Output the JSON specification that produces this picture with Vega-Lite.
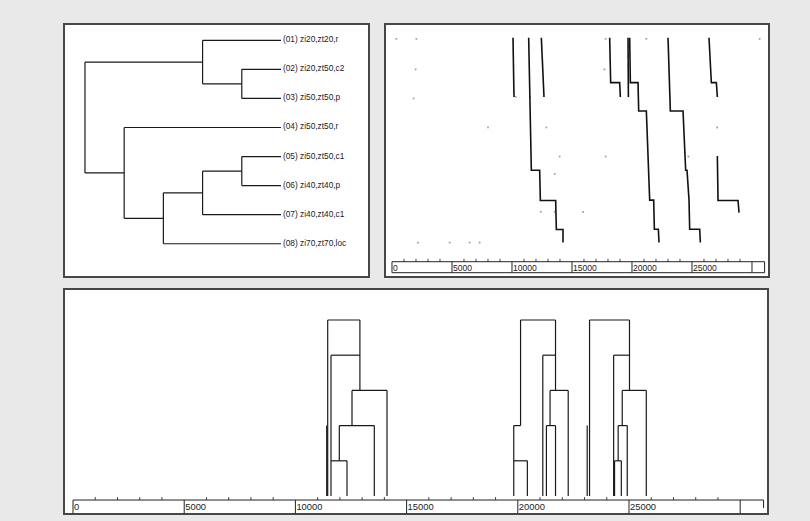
{
  "$schema": "https://vega.github.io/schema/vega-lite/v6.json",
  "background": "#e9e9e9",
  "padding": {"left": 63, "top": 23, "right": 43, "bottom": 10},
  "autosize": {"type": "pad"},
  "config": {
    "view": {"stroke": "#474747", "strokeWidth": 2, "fill": "white"},
    "text": {"font": "Liberation Sans"}
  },
  "datasets": {
    "dendro": [
      {"x": 0.4, "x2": 0, "y": 1, "y2": 1},
      {"x": 0.2, "x2": 0, "y": 2, "y2": 2},
      {"x": 0.2, "x2": 0, "y": 3, "y2": 3},
      {"x": 0.8, "x2": 0, "y": 4, "y2": 4},
      {"x": 0.2, "x2": 0, "y": 5, "y2": 5},
      {"x": 0.2, "x2": 0, "y": 6, "y2": 6},
      {"x": 0.4, "x2": 0, "y": 7, "y2": 7},
      {"x": 0.6, "x2": 0, "y": 8, "y2": 8},
      {"x": 0.4, "x2": 0.2, "y": 2.5, "y2": 2.5},
      {"x": 1.0, "x2": 0.4, "y": 1.75, "y2": 1.75},
      {"x": 0.4, "x2": 0.2, "y": 5.5, "y2": 5.5},
      {"x": 0.6, "x2": 0.4, "y": 6.25, "y2": 6.25},
      {"x": 0.8, "x2": 0.6, "y": 7.125, "y2": 7.125},
      {"x": 1.0, "x2": 0.8, "y": 5.5625, "y2": 5.5625},
      {"x": 0.2, "x2": 0.2, "y": 2, "y2": 3},
      {"x": 0.4, "x2": 0.4, "y": 1, "y2": 2.5},
      {"x": 1.0, "x2": 1.0, "y": 1.75, "y2": 5.5625},
      {"x": 0.2, "x2": 0.2, "y": 5, "y2": 6},
      {"x": 0.4, "x2": 0.4, "y": 5.5, "y2": 7},
      {"x": 0.6, "x2": 0.6, "y": 6.25, "y2": 8},
      {"x": 0.8, "x2": 0.8, "y": 4, "y2": 7.125}
    ],
    "leaves": [
      {"row": 1, "label": "(01) zi20,zt20,r"},
      {"row": 2, "label": "(02) zi20,zt50,c2"},
      {"row": 3, "label": "(03) zi50,zt50,p"},
      {"row": 4, "label": "(04) zi50,zt50,r"},
      {"row": 5, "label": "(05) zi50,zt50,c1"},
      {"row": 6, "label": "(06) zi40,zt40,p"},
      {"row": 7, "label": "(07) zi40,zt40,c1"},
      {"row": 8, "label": "(08) zi70,zt70,loc"}
    ],
    "traces": [
      {"trace": "A", "ord": 1, "pos": 10083, "row": 0.91},
      {"trace": "A", "ord": 2, "pos": 10167, "row": 2.95},
      {"trace": "B", "ord": 1, "pos": 11390, "row": 0.91},
      {"trace": "B", "ord": 2, "pos": 11612, "row": 5.474},
      {"trace": "B", "ord": 3, "pos": 12306, "row": 5.474},
      {"trace": "B", "ord": 4, "pos": 12362, "row": 6.51},
      {"trace": "B", "ord": 5, "pos": 13640, "row": 6.51},
      {"trace": "B", "ord": 6, "pos": 13696, "row": 7.51},
      {"trace": "B", "ord": 7, "pos": 14251, "row": 7.51},
      {"trace": "B", "ord": 8, "pos": 14251, "row": 7.96},
      {"trace": "C", "ord": 1, "pos": 12445, "row": 0.91},
      {"trace": "C", "ord": 2, "pos": 12667, "row": 2.95},
      {"trace": "D", "ord": 1, "pos": 18140, "row": 0.91},
      {"trace": "D", "ord": 2, "pos": 18223, "row": 2.458},
      {"trace": "D", "ord": 3, "pos": 18973, "row": 2.458},
      {"trace": "D", "ord": 4, "pos": 19029, "row": 2.95},
      {"trace": "E1", "ord": 1, "pos": 19668, "row": 0.91},
      {"trace": "E1", "ord": 2, "pos": 19700, "row": 2.95},
      {"trace": "E2", "ord": 1, "pos": 19807, "row": 0.91},
      {"trace": "E2", "ord": 2, "pos": 19863, "row": 2.458},
      {"trace": "E2", "ord": 3, "pos": 20502, "row": 2.458},
      {"trace": "E2", "ord": 4, "pos": 20557, "row": 3.433},
      {"trace": "E2", "ord": 5, "pos": 21196, "row": 3.433},
      {"trace": "E2", "ord": 6, "pos": 21474, "row": 6.5},
      {"trace": "E2", "ord": 7, "pos": 21807, "row": 6.5},
      {"trace": "E2", "ord": 8, "pos": 21863, "row": 7.5},
      {"trace": "E2", "ord": 9, "pos": 22196, "row": 7.5},
      {"trace": "E2", "ord": 10, "pos": 22252, "row": 7.96},
      {"trace": "F", "ord": 1, "pos": 23002, "row": 0.91},
      {"trace": "F", "ord": 2, "pos": 23196, "row": 3.433},
      {"trace": "F", "ord": 3, "pos": 24252, "row": 3.433},
      {"trace": "F", "ord": 4, "pos": 24474, "row": 5.474},
      {"trace": "F", "ord": 5, "pos": 24585, "row": 5.474},
      {"trace": "F", "ord": 6, "pos": 24752, "row": 6.5},
      {"trace": "F", "ord": 7, "pos": 24807, "row": 7.5},
      {"trace": "F", "ord": 8, "pos": 25641, "row": 7.5},
      {"trace": "F", "ord": 9, "pos": 25697, "row": 7.96},
      {"trace": "G1", "ord": 1, "pos": 26418, "row": 0.91},
      {"trace": "G1", "ord": 2, "pos": 26613, "row": 2.458},
      {"trace": "G1", "ord": 3, "pos": 27030, "row": 2.458},
      {"trace": "G1", "ord": 4, "pos": 27113, "row": 2.95},
      {"trace": "G2", "ord": 1, "pos": 27113, "row": 4.98},
      {"trace": "G2", "ord": 2, "pos": 27169, "row": 6.51},
      {"trace": "G2", "ord": 3, "pos": 28836, "row": 6.51},
      {"trace": "G2", "ord": 4, "pos": 28919, "row": 6.93}
    ],
    "dots": [
      {"pos": 361, "row": 0.95}, {"pos": 2028, "row": 0.95}, {"pos": 1972, "row": 2.0},
      {"pos": 1806, "row": 3.0}, {"pos": 8000, "row": 4.0}, {"pos": 12862, "row": 4.0},
      {"pos": 13973, "row": 5.0}, {"pos": 17807, "row": 5.0}, {"pos": 13557, "row": 5.6},
      {"pos": 15918, "row": 6.9}, {"pos": 13557, "row": 6.9}, {"pos": 12400, "row": 6.9},
      {"pos": 2167, "row": 7.96}, {"pos": 4806, "row": 7.96}, {"pos": 6473, "row": 7.96},
      {"pos": 7306, "row": 7.96}, {"pos": 17807, "row": 0.95}, {"pos": 21196, "row": 0.95},
      {"pos": 30640, "row": 0.95}, {"pos": 17700, "row": 2.0}, {"pos": 24700, "row": 5.0},
      {"pos": 27100, "row": 4.0}, {"pos": 10300, "row": 2.95}, {"pos": 11500, "row": 2.95}
    ],
    "majors": [
      {"pos": 0, "label": "0"}, {"pos": 5000, "label": "5000"}, {"pos": 10000, "label": "10000"},
      {"pos": 15000, "label": "15000"}, {"pos": 20000, "label": "20000"}, {"pos": 25000, "label": "25000"},
      {"pos": 30000, "label": ""}
    ],
    "minors": [
      {"pos": 1000}, {"pos": 2000}, {"pos": 3000}, {"pos": 4000},
      {"pos": 6000}, {"pos": 7000}, {"pos": 8000}, {"pos": 9000},
      {"pos": 11000}, {"pos": 12000}, {"pos": 13000}, {"pos": 14000},
      {"pos": 16000}, {"pos": 17000}, {"pos": 18000}, {"pos": 19000},
      {"pos": 21000}, {"pos": 22000}, {"pos": 23000}, {"pos": 24000},
      {"pos": 26000}, {"pos": 27000}, {"pos": 28000}, {"pos": 29000}
    ],
    "btree": [
      {"x": 11452, "x2": 12900, "y": 5, "y2": 5},
      {"x": 11452, "x2": 11452, "y": 5, "y2": 0},
      {"x": 11407, "x2": 11407, "y": 2, "y2": 0},
      {"x": 12900, "x2": 12900, "y": 5, "y2": 3},
      {"x": 11600, "x2": 12900, "y": 4, "y2": 4},
      {"x": 11600, "x2": 11600, "y": 4, "y2": 0},
      {"x": 12545, "x2": 14119, "y": 3, "y2": 3},
      {"x": 14119, "x2": 14119, "y": 3, "y2": 0},
      {"x": 12545, "x2": 12545, "y": 3, "y2": 2},
      {"x": 11974, "x2": 13548, "y": 2, "y2": 2},
      {"x": 13548, "x2": 13548, "y": 2, "y2": 0},
      {"x": 11974, "x2": 11974, "y": 2, "y2": 1},
      {"x": 11600, "x2": 12320, "y": 1, "y2": 1},
      {"x": 12320, "x2": 12320, "y": 1, "y2": 0},
      {"x": 20124, "x2": 21696, "y": 5, "y2": 5},
      {"x": 20124, "x2": 20124, "y": 5, "y2": 2},
      {"x": 19818, "x2": 20124, "y": 2, "y2": 2},
      {"x": 19818, "x2": 19818, "y": 2, "y2": 0},
      {"x": 19818, "x2": 20430, "y": 1, "y2": 1},
      {"x": 20430, "x2": 20430, "y": 1, "y2": 0},
      {"x": 21696, "x2": 21696, "y": 5, "y2": 3},
      {"x": 21124, "x2": 21696, "y": 4, "y2": 4},
      {"x": 21124, "x2": 21124, "y": 4, "y2": 0},
      {"x": 21451, "x2": 22267, "y": 3, "y2": 3},
      {"x": 22267, "x2": 22267, "y": 3, "y2": 0},
      {"x": 21451, "x2": 21451, "y": 3, "y2": 2},
      {"x": 21287, "x2": 21696, "y": 2, "y2": 2},
      {"x": 21287, "x2": 21287, "y": 2, "y2": 0},
      {"x": 21696, "x2": 21696, "y": 2, "y2": 0},
      {"x": 23226, "x2": 25022, "y": 5, "y2": 5},
      {"x": 23226, "x2": 23226, "y": 5, "y2": 0},
      {"x": 23120, "x2": 23120, "y": 2, "y2": 0},
      {"x": 25022, "x2": 25022, "y": 5, "y2": 3},
      {"x": 24309, "x2": 25022, "y": 4, "y2": 4},
      {"x": 24309, "x2": 24309, "y": 4, "y2": 0},
      {"x": 24696, "x2": 25778, "y": 3, "y2": 3},
      {"x": 25778, "x2": 25778, "y": 3, "y2": 0},
      {"x": 24696, "x2": 24696, "y": 3, "y2": 2},
      {"x": 24513, "x2": 24921, "y": 2, "y2": 2},
      {"x": 24921, "x2": 24921, "y": 2, "y2": 0},
      {"x": 24513, "x2": 24513, "y": 2, "y2": 1},
      {"x": 24350, "x2": 24655, "y": 1, "y2": 1},
      {"x": 24350, "x2": 24350, "y": 1, "y2": 0},
      {"x": 24655, "x2": 24655, "y": 1, "y2": 0}
    ]
  },
  "resolve": {"scale": {"x": "independent", "y": "independent"}},
  "spacing": 10,
  "vconcat": [
    {
      "spacing": 14,
      "resolve": {"scale": {"x": "independent", "y": "independent"}},
      "hconcat": [
        {
          "width": 305,
          "height": 253,
          "layer": [
            {
              "data": {"name": "dendro"},
              "mark": {"type": "rule", "color": "#1a1a1a", "strokeWidth": 1.2},
              "encoding": {
                "x": {"field": "x", "type": "quantitative", "axis": null, "scale": {"domain": [-0.449, 1.107], "reverse": true, "nice": false, "zero": false}},
                "x2": {"field": "x2"},
                "y": {"field": "y", "type": "quantitative", "axis": null, "scale": {"domain": [0.439, 9.145], "reverse": true, "nice": false, "zero": false}},
                "y2": {"field": "y2"}
              }
            },
            {
              "data": {"name": "leaves"},
              "mark": {"type": "text", "align": "left", "baseline": "middle", "dx": 2, "fontSize": 8.3, "color": "#1a1a1a"},
              "encoding": {
                "x": {"datum": 0, "type": "quantitative", "axis": null, "scale": {"domain": [-0.449, 1.107], "reverse": true, "nice": false, "zero": false}},
                "y": {"field": "row", "type": "quantitative", "axis": null, "scale": {"domain": [0.439, 9.145], "reverse": true, "nice": false, "zero": false}},
                "text": {"field": "label"}
              }
            }
          ]
        },
        {
          "width": 384,
          "height": 253,
          "layer": [
            {
              "data": {"name": "dots"},
              "mark": {"type": "square", "size": 3, "color": "#777", "opacity": 0.7},
              "encoding": {
                "x": {"field": "pos", "type": "quantitative", "axis": null, "scale": {"domain": [-583, 31417], "nice": false, "zero": false}},
                "y": {"field": "row", "type": "quantitative", "axis": null, "scale": {"domain": [0.439, 9.145], "reverse": true, "nice": false, "zero": false}}
              }
            },
            {
              "data": {"name": "traces"},
              "mark": {"type": "line", "color": "#111", "strokeWidth": 1.6},
              "encoding": {
                "x": {"field": "pos", "type": "quantitative", "axis": null, "scale": {"domain": [-583, 31417], "nice": false, "zero": false}},
                "y": {"field": "row", "type": "quantitative", "axis": null, "scale": {"domain": [0.439, 9.145], "reverse": true, "nice": false, "zero": false}},
                "detail": {"field": "trace"},
                "order": {"field": "ord", "type": "quantitative"}
              }
            },
            {
              "data": {"name": "majors"},
              "mark": {"type": "rule", "color": "#222", "strokeWidth": 1},
              "encoding": {
                "x": {"field": "pos", "type": "quantitative", "axis": null, "scale": {"domain": [-583, 31417], "nice": false, "zero": false}},
                "y": {"datum": 8.619, "type": "quantitative", "axis": null, "scale": {"domain": [0.439, 9.145], "reverse": true, "nice": false, "zero": false}},
                "y2": {"datum": 8.997}
              }
            },
            {
              "data": {"name": "minors"},
              "mark": {"type": "rule", "color": "#444", "strokeWidth": 1},
              "encoding": {
                "x": {"field": "pos", "type": "quantitative", "axis": null, "scale": {"domain": [-583, 31417], "nice": false, "zero": false}},
                "y": {"datum": 8.619, "type": "quantitative", "axis": null, "scale": {"domain": [0.439, 9.145], "reverse": true, "nice": false, "zero": false}},
                "y2": {"datum": 8.52}
              }
            },
            {
              "data": {"values": [{"a": 8.619}, {"a": 8.997}]},
              "mark": {"type": "rule", "color": "#222", "strokeWidth": 1},
              "encoding": {
                "x": {"datum": 0, "type": "quantitative", "axis": null, "scale": {"domain": [-583, 31417], "nice": false, "zero": false}},
                "x2": {"datum": 31050},
                "y": {"field": "a", "type": "quantitative", "axis": null, "scale": {"domain": [0.439, 9.145], "reverse": true, "nice": false, "zero": false}}
              }
            },
            {
              "data": {"values": [{"a": 31050}]},
              "mark": {"type": "rule", "color": "#222", "strokeWidth": 1},
              "encoding": {
                "x": {"field": "a", "type": "quantitative", "axis": null, "scale": {"domain": [-583, 31417], "nice": false, "zero": false}},
                "y": {"datum": 8.619, "type": "quantitative", "axis": null, "scale": {"domain": [0.439, 9.145], "reverse": true, "nice": false, "zero": false}},
                "y2": {"datum": 8.997}
              }
            },
            {
              "data": {"name": "majors"},
              "mark": {"type": "text", "align": "left", "baseline": "middle", "dx": 1, "fontSize": 8.6, "color": "#222"},
              "encoding": {
                "x": {"field": "pos", "type": "quantitative", "axis": null, "scale": {"domain": [-583, 31417], "nice": false, "zero": false}},
                "y": {"datum": 8.82, "type": "quantitative", "axis": null, "scale": {"domain": [0.439, 9.145], "reverse": true, "nice": false, "zero": false}},
                "text": {"field": "label"}
              }
            }
          ]
        }
      ]
    },
    {
      "width": 704,
      "height": 225,
      "layer": [
        {
          "data": {"name": "btree"},
          "mark": {"type": "rule", "color": "#1a1a1a", "strokeWidth": 1.2},
          "encoding": {
            "x": {"field": "x", "type": "quantitative", "axis": null, "scale": {"domain": [-405, 31250], "nice": false, "zero": false}},
            "x2": {"field": "x2"},
            "y": {"field": "y", "type": "quantitative", "axis": null, "scale": {"domain": [-0.511, 5.88], "nice": false, "zero": false}},
            "y2": {"field": "y2"}
          }
        },
        {
          "data": {"name": "majors"},
          "mark": {"type": "rule", "color": "#222", "strokeWidth": 1},
          "encoding": {
            "x": {"field": "pos", "type": "quantitative", "axis": null, "scale": {"domain": [-405, 31250], "nice": false, "zero": false}},
            "y": {"datum": -0.114, "type": "quantitative", "axis": null, "scale": {"domain": [-0.511, 5.88], "nice": false, "zero": false}},
            "y2": {"datum": -0.49}
          }
        },
        {
          "data": {"name": "minors"},
          "mark": {"type": "rule", "color": "#444", "strokeWidth": 1},
          "encoding": {
            "x": {"field": "pos", "type": "quantitative", "axis": null, "scale": {"domain": [-405, 31250], "nice": false, "zero": false}},
            "y": {"datum": -0.114, "type": "quantitative", "axis": null, "scale": {"domain": [-0.511, 5.88], "nice": false, "zero": false}},
            "y2": {"datum": -0.03}
          }
        },
        {
          "data": {"values": [{"a": -0.114}]},
          "mark": {"type": "rule", "color": "#222", "strokeWidth": 1},
          "encoding": {
            "x": {"datum": 0, "type": "quantitative", "axis": null, "scale": {"domain": [-405, 31250], "nice": false, "zero": false}},
            "x2": {"datum": 31050},
            "y": {"field": "a", "type": "quantitative", "axis": null, "scale": {"domain": [-0.511, 5.88], "nice": false, "zero": false}}
          }
        },
        {
          "data": {"values": [{"a": 31050}]},
          "mark": {"type": "rule", "color": "#222", "strokeWidth": 1},
          "encoding": {
            "x": {"field": "a", "type": "quantitative", "axis": null, "scale": {"domain": [-405, 31250], "nice": false, "zero": false}},
            "y": {"datum": -0.114, "type": "quantitative", "axis": null, "scale": {"domain": [-0.511, 5.88], "nice": false, "zero": false}},
            "y2": {"datum": -0.34}
          }
        },
        {
          "data": {"name": "majors"},
          "mark": {"type": "text", "align": "left", "baseline": "middle", "dx": 1, "fontSize": 9.4, "color": "#222"},
          "encoding": {
            "x": {"field": "pos", "type": "quantitative", "axis": null, "scale": {"domain": [-405, 31250], "nice": false, "zero": false}},
            "y": {"datum": -0.31, "type": "quantitative", "axis": null, "scale": {"domain": [-0.511, 5.88], "nice": false, "zero": false}},
            "text": {"field": "label"}
          }
        }
      ]
    }
  ]
}
